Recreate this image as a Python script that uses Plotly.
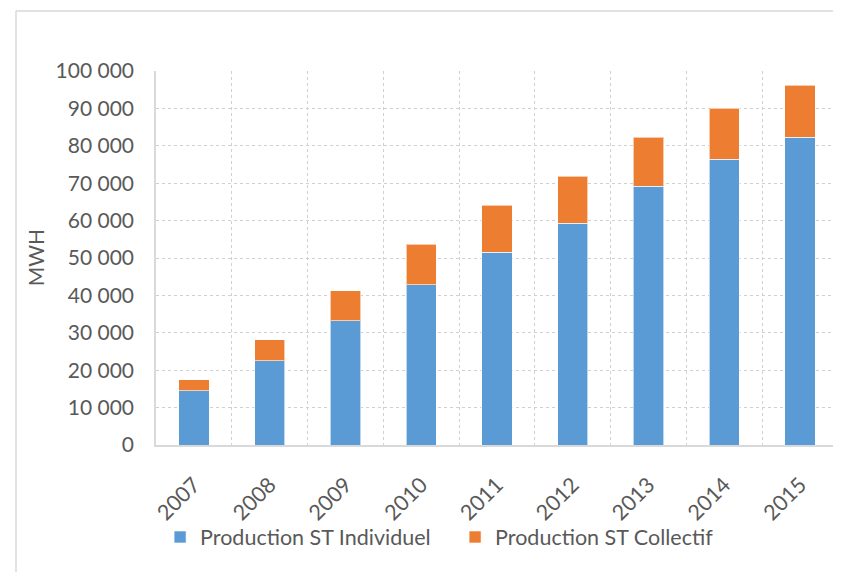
import plotly.graph_objects as go

years = ["2007", "2008", "2009", "2010", "2011", "2012", "2013", "2014", "2015"]
individuel = [14500, 22500, 33200, 42900, 51600, 59300, 69200, 76400, 82300]
collectif = [2900, 5700, 8100, 10800, 12500, 12500, 13100, 13700, 13900]

FONT = "Lato"
TXT = "#595959"

fig = go.Figure()
fig.add_trace(go.Bar(x=years, y=individuel, name="Production ST Individuel",
                     marker=dict(color="#5B9BD5", line=dict(color="rgba(255,255,255,0.6)", width=1))))
fig.add_trace(go.Bar(x=years, y=collectif, name="Production ST Collectif",
                     marker=dict(color="#ED7D31", line=dict(color="rgba(255,255,255,0.6)", width=1))))

fig.update_layout(
    width=833, height=564,
    barmode="stack", bargap=0.6,
    plot_bgcolor="white", paper_bgcolor="white",
    margin=dict(l=148, r=3, t=63, b=127),
    font=dict(family=FONT, size=21, color=TXT),
    showlegend=True,
    legend=dict(orientation="h", x=0.006, y=-0.246, xanchor="left", yanchor="middle",
                bgcolor="rgba(0,0,0,0)",
                font=dict(family=FONT, size=21.5, color=TXT), traceorder="normal",
                itemwidth=30, entrywidth=250),
    xaxis=dict(type="category", tickangle=-45, showgrid=True, tickson="boundaries",
               gridcolor="#D0D0D0", griddash="dot", gridwidth=1,
               showline=True, linecolor="#D9D9D9", linewidth=1.5, ticks="",
               ticklabelstandoff=17,
               tickfont=dict(family=FONT, size=21.5, color=TXT)),
    yaxis=dict(range=[0, 100000], dtick=10000, tickformat=",d", showgrid=True,
               gridcolor="#D0D0D0", griddash="dot", gridwidth=1,
               showline=True, linecolor="#D9D9D9", linewidth=1.5, ticks="",
               ticklabelstandoff=16, zeroline=False,
               tickfont=dict(family=FONT, size=21, color=TXT)),
    separators=". ",
    annotations=[dict(text="MWH", x=-0.177, y=0.5, xref="paper", yref="paper",
                      textangle=-90, showarrow=False, xanchor="center", yanchor="middle",
                      font=dict(family=FONT, size=21, color=TXT))],
    shapes=[
        dict(type="line", xref="paper", yref="paper", x0=-0.2053, x1=-0.2053, y0=-1.0, y1=1.1604,
             line=dict(color="#D9D9D9", width=1.5)),
        dict(type="line", xref="paper", yref="paper", x0=-0.2053, x1=1.02, y0=1.1604, y1=1.1604,
             line=dict(color="#D9D9D9", width=1.5)),
    ],
)

fig.write_html("out.html")
